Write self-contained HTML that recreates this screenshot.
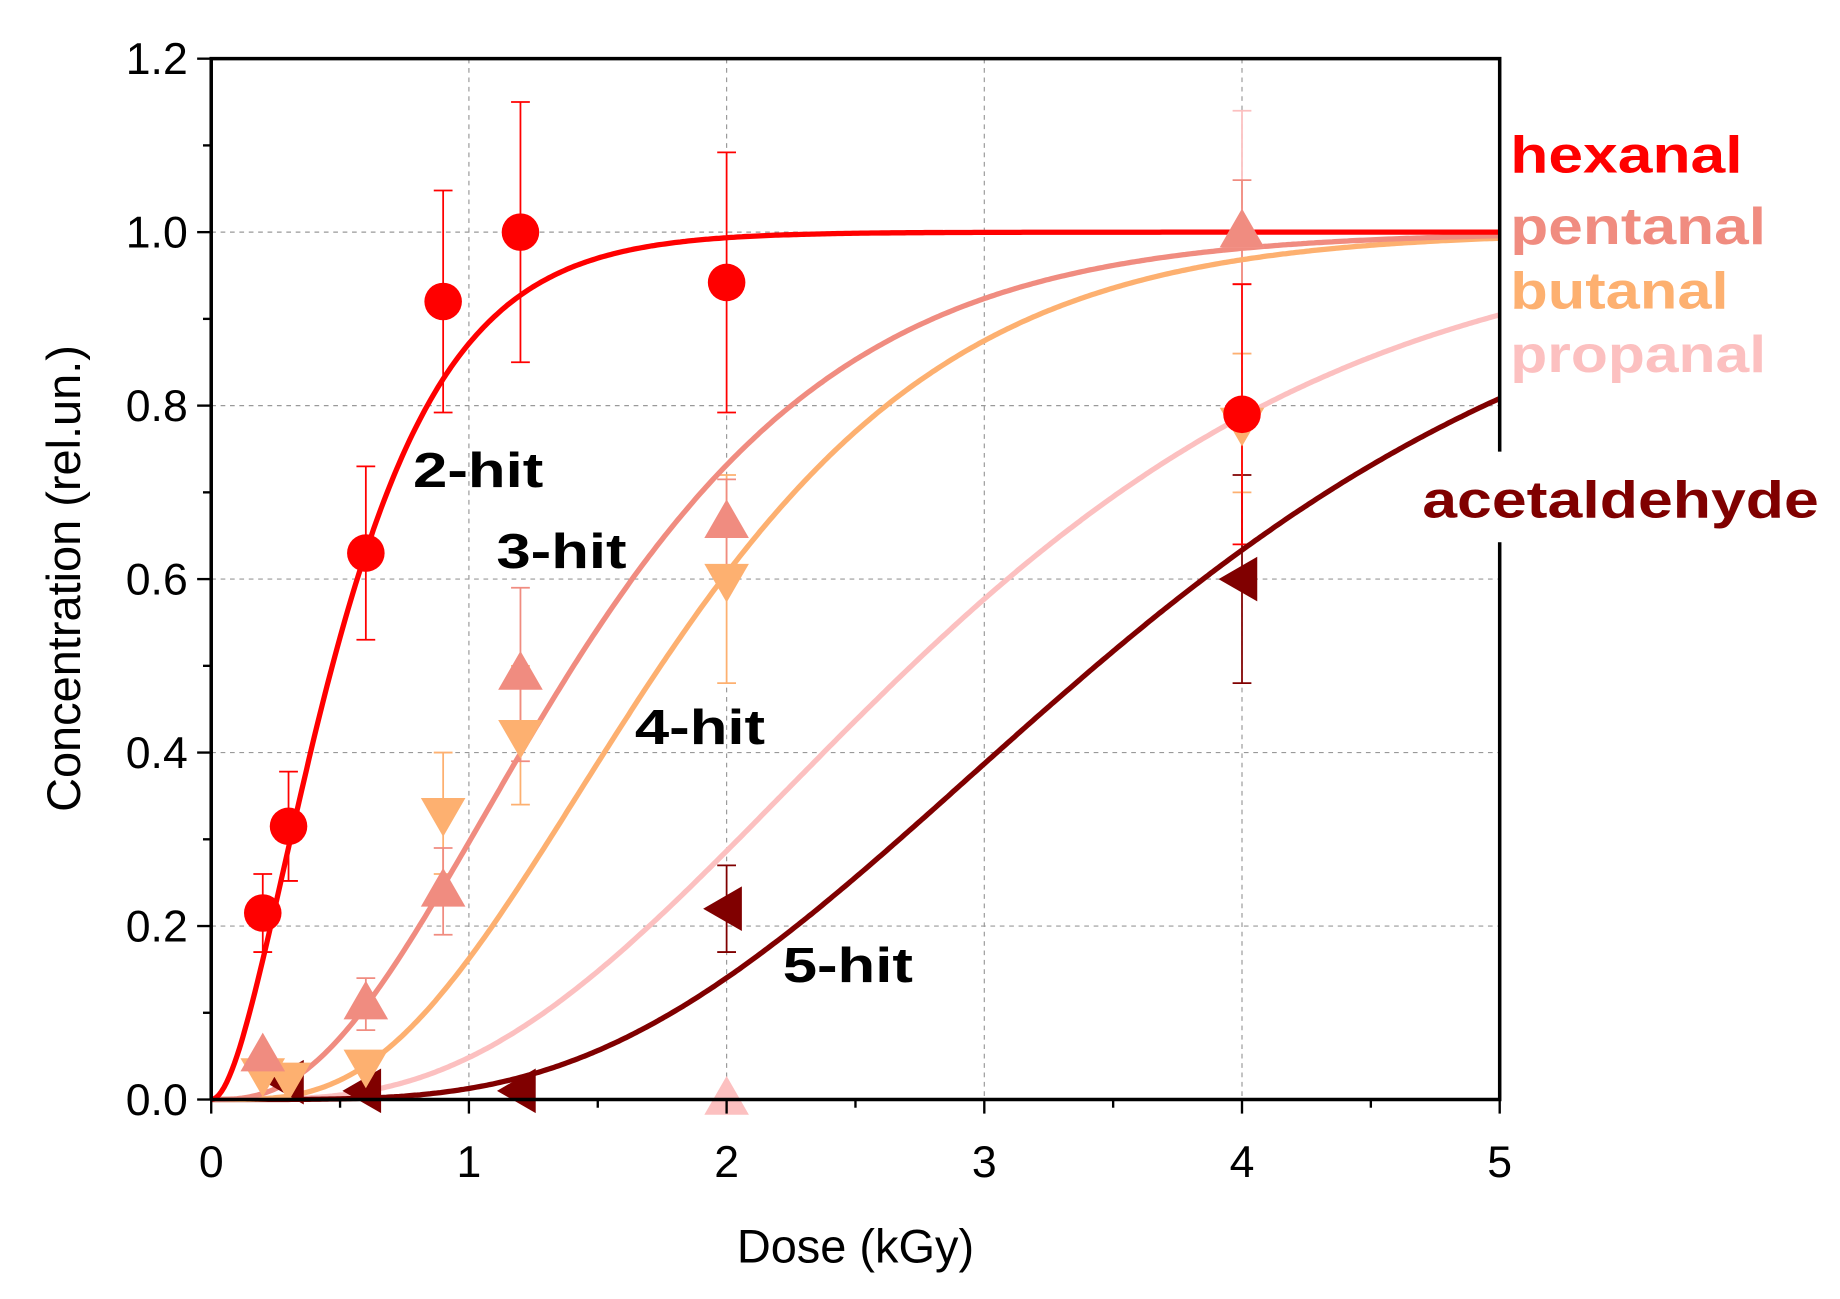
<!DOCTYPE html>
<html><head><meta charset="utf-8"><style>
html,body{margin:0;padding:0;background:#fff;}
svg{display:block;}
</style></head><body>
<svg id="s" width="1840" height="1299" viewBox="0 0 1568 1107" preserveAspectRatio="none" xmlns="http://www.w3.org/2000/svg" font-family="Liberation Sans, Arial, sans-serif">
<rect width="1568" height="1107" fill="#fff"/>
<g id="grid" stroke="#999" stroke-width="1" stroke-dasharray="4,4"></g>
<g id="err"></g>
<g id="curves" fill="none" stroke-width="4.5"></g>
<g id="marks"></g>
<g id="axes"></g>
<g font-weight="bold" font-size="42" fill="#000" lengthAdjust="spacingAndGlyphs">
<text x="352" y="415" textLength="111" lengthAdjust="spacingAndGlyphs">2-hit</text>
<text x="423" y="484" textLength="111" lengthAdjust="spacingAndGlyphs">3-hit</text>
<text x="541" y="634" textLength="111" lengthAdjust="spacingAndGlyphs">4-hit</text>
<text x="667" y="837" textLength="111" lengthAdjust="spacingAndGlyphs">5-hit</text>
</g>
<rect x="1270" y="385" width="20" height="77" fill="#fff"/>
<g font-weight="bold" font-size="44">
<text x="1287" y="147" fill="#ff0000" textLength="198" lengthAdjust="spacingAndGlyphs">hexanal</text>
<text x="1287" y="208" fill="#f08c80" textLength="218" lengthAdjust="spacingAndGlyphs">pentanal</text>
<text x="1287" y="263" fill="#fdb070" textLength="186" lengthAdjust="spacingAndGlyphs">butanal</text>
<text x="1287" y="317" fill="#fcc0c0" textLength="218" lengthAdjust="spacingAndGlyphs">propanal</text>
<text x="1212" y="441" fill="#800000" textLength="338" lengthAdjust="spacingAndGlyphs">acetaldehyde</text>
</g>
<g font-size="38" fill="#000" id="ticks"></g>
<text x="729" y="1076" font-size="40" text-anchor="middle">Dose (kGy)</text>
<text transform="translate(68,493) rotate(-90)" font-size="40" text-anchor="middle">Concentration (rel.un.)</text>
</svg>
<script>
const NS="http://www.w3.org/2000/svg";
const X=d=>180+219.6*d, Y=c=>937-739.17*c;
function el(p,t,a){const e=document.createElementNS(NS,t);for(const k in a)e.setAttribute(k,a[k]);p.appendChild(e);return e;}
const g=id=>document.getElementById(id);
for(let d=1;d<5;d++)el(g('grid'),'line',{x1:X(d),x2:X(d),y1:50,y2:937});
for(let c=0.2;c<1.19;c+=0.2)el(g('grid'),'line',{x1:180,x2:1278,y1:Y(c),y2:Y(c)});
const ax=g('axes');
el(ax,'path',{d:'M180,937 L180,50 L1278,50 L1278,385 M1278,462 L1278,937 L180,937',fill:'none',stroke:'#000','stroke-width':3});
for(let i=0;i<=10;i++){const x=X(i*0.5);const L=i%2?7:12;el(ax,'line',{x1:x,x2:x,y1:937,y2:937+L,stroke:'#000','stroke-width':2});}
for(let i=0;i<=12;i++){const y=Y(i*0.1);const L=i%2?7:12;el(ax,'line',{x1:180-L,x2:180,y1:y,y2:y,stroke:'#000','stroke-width':2});}
const tk=g('ticks');
for(let d=0;d<=5;d++){const t=el(tk,'text',{x:X(d),y:1003,'text-anchor':'middle'});t.textContent=d;}
for(let i=0;i<=6;i++){const c=i*0.2;const t=el(tk,'text',{x:160,y:Y(c)+13,'text-anchor':'end'});t.textContent=c.toFixed(1);}
function hit(n,D0,D){const x=D/D0;let s=0,t=1;for(let k=0;k<n;k++){s+=t;t*=x/(k+1);}return 1-Math.exp(-x)*s;}
const cur=[['#fcc0c0',4,0.74],['#800000',5,0.735],['#fdb070',4,0.475],['#f08c80',3,0.526],['#ff0000',2,0.28]];
for(const [col,n,D0] of cur){let p='';for(let i=0;i<=500;i++){const D=5*i/500;p+=(i?'L':'M')+X(D).toFixed(1)+','+Y(hit(n,D0,D)).toFixed(1);}el(g('curves'),'path',{d:p,stroke:col});}
const data=[
['#fcc0c0','up',[[2,0.0,0],[4,1.0,0.14]]],
['#800000','left',[[0.3,0.02,0],[0.6,0.01,0],[1.2,0.01,0],[2,0.22,0.05],[4,0.6,0.12]]],
['#fdb070','down',[[0.2,0.03,0],[0.3,0.025,0],[0.6,0.04,0],[0.9,0.33,0.07],[1.2,0.42,0.08],[2,0.6,0.12],[4,0.78,0.08]]],
['#f08c80','up',[[0.2,0.05,0],[0.6,0.11,0.03],[0.9,0.24,0.05],[1.2,0.49,0.1],[2,0.665,0.05],[4,1.0,0.06]]],
['#ff0000','circ',[[0.2,0.215,0.045],[0.3,0.315,0.063],[0.6,0.63,0.1],[0.9,0.92,0.128],[1.2,1.0,0.15],[2,0.942,0.15],[4,0.79,0.15]]]
];
for(const [col,sh,pts] of data){for(const [d,c,e] of pts){const x=X(d),y=Y(c);
 if(e>0){el(g('err'),'path',{d:`M${x},${Y(c-e)}L${x},${Y(c+e)}M${x-8},${Y(c-e)}L${x+8},${Y(c-e)}M${x-8},${Y(c+e)}L${x+8},${Y(c+e)}`,stroke:col,'stroke-width':1.5,fill:'none'});}
 const m=g('marks');
 if(sh=='circ')el(m,'circle',{cx:x,cy:y,r:16,fill:col});
 else if(sh=='up')el(m,'polygon',{points:`${x},${y-20} ${x-19},${y+13} ${x+19},${y+13}`,fill:col});
 else if(sh=='down')el(m,'polygon',{points:`${x},${y+20} ${x-19},${y-13} ${x+19},${y-13}`,fill:col});
 else el(m,'polygon',{points:`${x-20},${y} ${x+13},${y-19} ${x+13},${y+19}`,fill:col});
}}
</script>
</body></html>
